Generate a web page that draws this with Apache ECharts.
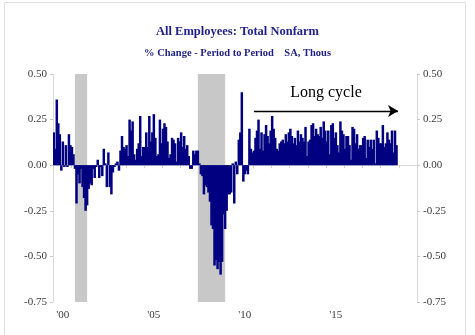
<!DOCTYPE html>
<html>
<head>
<meta charset="utf-8">
<script src="https://cdn.jsdelivr.net/npm/echarts@6/dist/echarts.min.js"></script>
<style>html,body{margin:0;padding:0;background:#fff;}#c{width:475px;height:335px;}</style>
</head>
<body>
<div id="c"></div>
<script>
// Monthly % change, all employees total nonfarm
const v2000 = [0.18, 0.09, 0.36, 0.23, 0.17, -0.03, 0.13, -0.01, 0.11, -0.01, 0.17, 0.11];
const v2001 = [0.10, 0.06, -0.02, -0.21, -0.05, -0.10, -0.02, -0.12, -0.18, -0.25, -0.22, -0.13];
const v2002 = [-0.10, -0.11, -0.02, -0.07, -0.01, 0.03, -0.07, -0.01, -0.06, 0.09, 0.01, -0.12];
const v2003 = [0.07, -0.12, -0.16, -0.04, -0.01, 0.01, 0.02, -0.03, 0.08, 0.16, 0.10, 0.09];
const v2004 = [0.11, 0.05, 0.25, 0.19, 0.24, 0.06, 0.03, 0.09, 0.12, 0.27, 0.05, 0.10];
const v2005 = [0.10, 0.18, 0.10, 0.27, 0.13, 0.18, 0.28, 0.15, 0.05, 0.06, 0.25, 0.12];
const v2006 = [0.20, 0.23, 0.21, 0.13, 0.04, 0.06, 0.15, 0.14, 0.12, 0.02, 0.15, 0.13];
const v2007 = [0.18, 0.10, 0.16, 0.09, 0.11, 0.05, -0.02, -0.02, 0.08, 0.06, 0.08, 0.08];
const v2008 = [0.01, -0.05, -0.06, -0.16, -0.11, -0.12, -0.15, -0.20, -0.33, -0.35, -0.55, -0.52];
const v2009 = [-0.57, -0.53, -0.60, -0.53, -0.27, -0.35, -0.25, -0.16, -0.16, -0.15, 0.01, -0.21];
const v2010 = [0.02, -0.05, 0.14, 0.18, 0.40, -0.09, -0.05, -0.03, -0.05, 0.20, 0.09, 0.07];
const v2011 = [0.08, 0.15, 0.19, 0.25, 0.09, 0.18, 0.08, 0.17, 0.22, 0.16, 0.12, 0.19];
const v2012 = [0.27, 0.20, 0.15, 0.09, 0.08, 0.12, 0.13, 0.14, 0.12, 0.17, 0.13, 0.18];
const v2013 = [0.20, 0.16, 0.12, 0.15, 0.11, 0.19, 0.13, 0.17, 0.15, 0.13, 0.21, 0.05];
const v2014 = [0.13, 0.14, 0.22, 0.23, 0.16, 0.20, 0.17, 0.16, 0.21, 0.15, 0.24, 0.19];
const v2015 = [0.13, 0.19, 0.06, 0.22, 0.23, 0.15, 0.18, 0.11, 0.07, 0.24, 0.19, 0.17];
const v2016 = [0.09, 0.16, 0.16, 0.11, 0.03, 0.21, 0.20, 0.12, 0.17, 0.09, 0.11, 0.11];
const v2017 = [0.15, 0.16, 0.04, 0.14, 0.10, 0.14, 0.09, 0.14, 0.01, 0.19, 0.15, 0.12];
const v2018 = [0.12, 0.22, 0.10, 0.12, 0.18, 0.14, 0.12, 0.19, 0.07, 0.19, 0.11];

const startYear = 2000, endYear = 2019;
const xTickLabels = ["'00", "'05", "'10", "'15"];
const yTicks = [-0.75, -0.50, -0.25, 0.00, 0.25, 0.50];
const recessions = [["2001-03", "2001-11"], ["2007-12", "2009-06"]];
const cycleArrow = { from: "2011-01", to: "2018-12", level: 0.297, text: "Long cycle" };

const categories = [];
for (let y = startYear; y <= endYear; y++) {
  for (let m = 1; m <= 12; m++) categories.push(y + "-" + (m < 10 ? "0" + m : "" + m));
}
const values = [].concat(v2000, v2001, v2002, v2003, v2004, v2005, v2006, v2007, v2008,
  v2009, v2010, v2011, v2012, v2013, v2014, v2015, v2016, v2017, v2018);

const navy = '#000080';
const titleColor = '#1f1f85';
const axisGray = '#d9d9d9';
const serif = '"Liberation Serif", "DejaVu Serif", serif';

function yAxisCfg(pos) {
  return {
    type: 'value', position: pos, min: yTicks[0], max: yTicks[yTicks.length - 1], interval: 0.25,
    axisLine: { show: true, lineStyle: { color: axisGray, width: 1 } },
    axisTick: { show: true, length: 3, lineStyle: { color: '#c8c8c8' } },
    axisLabel: { margin: 6, fontFamily: serif, fontSize: 11, color: '#3a3a3a',
      formatter: v => v.toFixed(2) },
    splitLine: pos === 'left' ? { show: true, lineStyle: { color: ['transparent', 'transparent', 'transparent', '#e4e4e4', 'transparent', 'transparent'], width: 1 } } : { show: false }
  };
}

const chart = echarts.init(document.getElementById('c'), null, { renderer: 'canvas' });
chart.setOption({
  animation: false,
  backgroundColor: '#fff',
  title: [
    { text: 'All Employees: Total Nonfarm', left: 'center', top: 20,
      textStyle: { fontFamily: serif, fontSize: 12.5, fontWeight: 'bold', color: titleColor } },
    { text: '% Change - Period to Period    SA, Thous', left: 'center', top: 43,
      textStyle: { fontFamily: serif, fontSize: 10.5, fontWeight: 'bold', color: titleColor } }
  ],
  graphic: [
    { type: 'rect', shape: { x: 4.5, y: 2.5, width: 461, height: 340 }, silent: true,
      style: { fill: 'none', stroke: '#dedede', lineWidth: 1 }, z: 0 }
  ],
  grid: { left: 53, right: 58, top: 74, bottom: 33 },
  xAxis: {
    type: 'category', data: categories, boundaryGap: true,
    axisLine: { show: true, lineStyle: { color: axisGray } },
    axisTick: { show: true, length: 3, interval: (i) => i % 12 === 0, lineStyle: { color: '#cfcfcf' } },
    axisLabel: { interval: (i) => i % 60 === 6, margin: 8, fontFamily: serif, fontSize: 11, color: '#3a3a3a',
      formatter: (v, i) => xTickLabels[Math.floor(i / 60)] },
    splitLine: { show: false }
  },
  yAxis: [yAxisCfg('left'), yAxisCfg('right')],
  series: [
    { type: 'line', data: [], z: 1, silent: true,
      markArea: { silent: true, itemStyle: { color: '#c8c8c8' },
        data: recessions.map(r => [{ xAxis: r[0] }, { xAxis: r[1] }]) } },
    { type: 'bar', data: values, z: 3, barWidth: 2.5,
      itemStyle: { color: navy },
      markLine: { silent: true, symbol: ['none', 'arrow'], symbolSize: [9, 10],
        lineStyle: { color: '#000', width: 1.3, type: 'solid' },
        label: { show: true, position: 'insideMiddleTop', distance: 10, formatter: cycleArrow.text,
          fontFamily: serif, fontSize: 16, color: '#000' },
        data: [[{ coord: [cycleArrow.from, cycleArrow.level] }, { coord: [cycleArrow.to, cycleArrow.level] }]] } }
  ]
});
</script>
</body>
</html>
